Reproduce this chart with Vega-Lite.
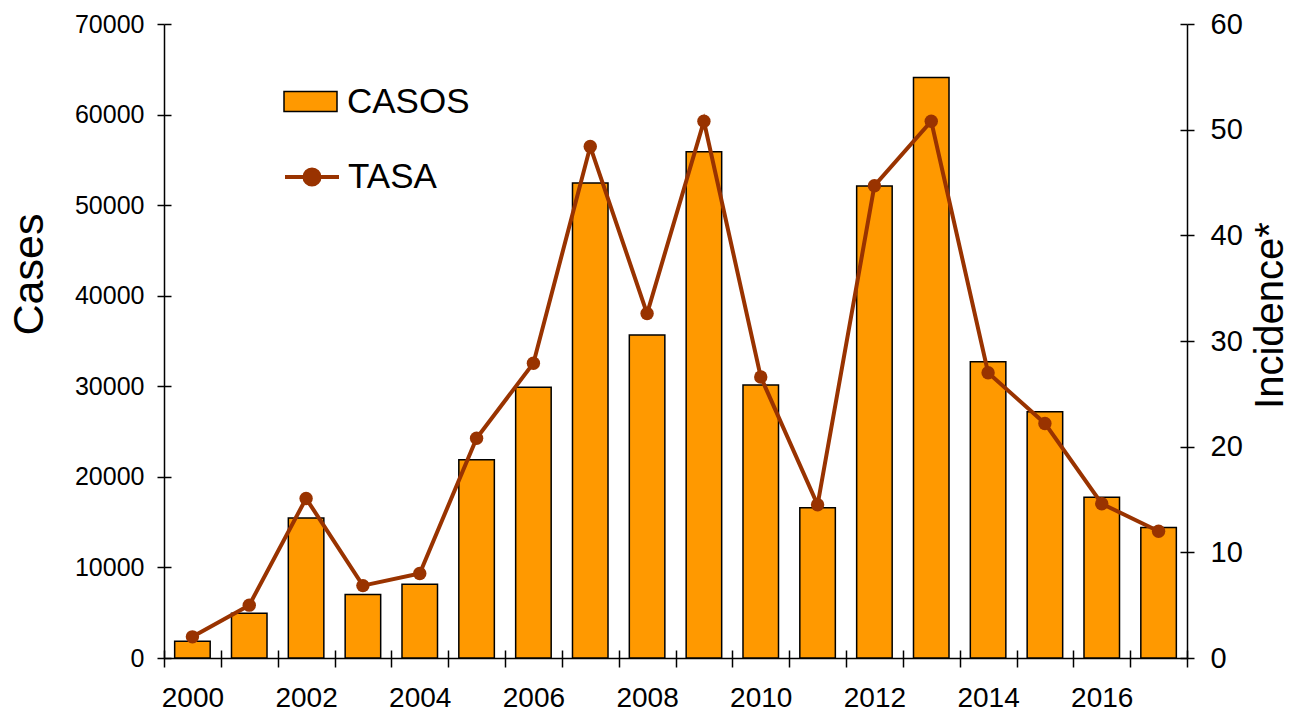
{
  "$schema": "https://vega.github.io/schema/vega-lite/v6.json",
  "autosize": "none",
  "padding": {"left": 164, "top": 24, "right": 104, "bottom": 56},
  "width": 1023,
  "height": 634,
  "background": "white",
  "data": {
    "values": [
      {"year": 2000, "cases": 1850, "tasa": 2.0},
      {"year": 2001, "cases": 4950, "tasa": 5.0},
      {"year": 2002, "cases": 15450, "tasa": 15.1},
      {"year": 2003, "cases": 7000, "tasa": 6.85},
      {"year": 2004, "cases": 8150, "tasa": 8.0},
      {"year": 2005, "cases": 21900, "tasa": 20.8},
      {"year": 2006, "cases": 29900, "tasa": 27.9},
      {"year": 2007, "cases": 52450, "tasa": 48.4},
      {"year": 2008, "cases": 35650, "tasa": 32.6},
      {"year": 2009, "cases": 55900, "tasa": 50.8},
      {"year": 2010, "cases": 30150, "tasa": 26.6},
      {"year": 2011, "cases": 16600, "tasa": 14.5},
      {"year": 2012, "cases": 52100, "tasa": 44.7},
      {"year": 2013, "cases": 64100, "tasa": 50.8},
      {"year": 2014, "cases": 32700, "tasa": 27.0},
      {"year": 2015, "cases": 27200, "tasa": 22.2},
      {"year": 2016, "cases": 17750, "tasa": 14.6},
      {"year": 2017, "cases": 14400, "tasa": 12.0}
    ]
  },
  "layer": [
    {
      "mark": {"type": "bar", "width": {"band": 0.625}, "stroke": "#000000", "strokeWidth": 1.5},
      "encoding": {
        "x": {
          "field": "year", "type": "ordinal",
          "scale": {"paddingInner": 0, "paddingOuter": 0},
          "axis": {
            "orient": "bottom", "title": null, "labelAngle": 0, "tickBand": "extent",
            "tickSize": 9, "labelPadding": 17, "labelFontSize": 28,
            "labelExpr": "datum.value % 2 == 0 ? datum.label : ''"
          }
        },
        "y": {
          "field": "cases", "type": "quantitative",
          "scale": {"domain": [0, 70000], "nice": false},
          "axis": {
            "orient": "left", "values": [0, 10000, 20000, 30000, 40000, 50000, 60000, 70000],
            "format": "d", "tickSize": 7, "labelPadding": 13, "labelFontSize": 25,
            "title": "Cases", "titleFontSize": 43, "titleAngle": -90,
            "titleX": -135, "titleY": 250, "titleAlign": "center", "titleBaseline": "middle"
          }
        },
        "fill": {
          "datum": "CASOS",
          "scale": {"range": ["#FF9900"]},
          "legend": {
            "orient": "none", "legendX": 119, "legendY": 50, "title": null, "padding": 0,
            "symbolType": "M-1,-0.377L1,-0.377L1,0.377L-1,0.377Z", "symbolSize": 2809,
            "symbolStrokeColor": "#000000", "symbolStrokeWidth": 1.5,
            "labelFontSize": 35, "labelFont": "Liberation Sans", "labelColor": "#000000", "labelOffset": 9
          }
        }
      }
    },
    {
      "mark": {"type": "line", "strokeWidth": 4},
      "encoding": {
        "x": {"field": "year", "type": "ordinal", "axis": null},
        "y": {
          "field": "tasa", "type": "quantitative",
          "scale": {"domain": [0, 60], "nice": false},
          "axis": {
            "orient": "right", "values": [0, 10, 20, 30, 40, 50, 60],
            "tickSize": 7, "labelPadding": 16, "labelFontSize": 29,
            "title": "Incidence*", "titleFontSize": 40, "titleAngle": -90,
            "titleX": 83, "titleY": 291, "titleAlign": "center", "titleBaseline": "middle"
          }
        },
        "stroke": {
          "datum": "TASA",
          "scale": {"range": ["#993300"]},
          "legend": {
            "orient": "none", "legendX": 119, "legendY": 124, "title": null, "padding": 0,
            "symbolType": "M-1,0L1,0M0.28,0A0.28,0.28 0 1,1 -0.28,0A0.28,0.28 0 1,1 0.28,0Z",
            "symbolSize": 2916, "symbolStrokeWidth": 4, "symbolFillColor": "#993300",
            "labelFontSize": 35, "labelFont": "Liberation Sans", "labelColor": "#000000", "labelOffset": 7,
            "encode": {"symbols": {"update": {"fill": {"value": "#993300"}, "stroke": {"value": "#993300"}}}}
          }
        }
      }
    },
    {
      "mark": {"type": "point", "filled": true, "size": 180, "color": "#993300", "opacity": 1},
      "encoding": {
        "x": {"field": "year", "type": "ordinal", "axis": null},
        "y": {"field": "tasa", "type": "quantitative", "scale": {"domain": [0, 60], "nice": false}, "axis": null}
      }
    },
    {
      "mark": {"type": "point", "opacity": 0},
      "encoding": {
        "x": {
          "field": "year", "type": "ordinal",
          "axis": {"orient": "bottom", "title": null, "labels": false, "domain": false, "tickBand": "extent", "tickSize": -8}
        },
        "y": {
          "field": "cases", "type": "quantitative",
          "scale": {"domain": [0, 70000], "nice": false},
          "axis": {"orient": "left", "values": [0, 10000, 20000, 30000, 40000, 50000, 60000, 70000], "labels": false, "domain": false, "title": null, "tickSize": -7}
        }
      }
    },
    {
      "mark": {"type": "point", "opacity": 0},
      "encoding": {
        "x": {"field": "year", "type": "ordinal", "axis": null},
        "y": {
          "field": "tasa", "type": "quantitative",
          "scale": {"domain": [0, 60], "nice": false},
          "axis": {"orient": "right", "values": [0, 10, 20, 30, 40, 50, 60], "labels": false, "domain": false, "title": null, "tickSize": -7}
        }
      }
    }
  ],
  "resolve": {"scale": {"y": "independent"}, "axis": {"x": "independent"}},
  "config": {
    "view": {"stroke": null},
    "font": "Liberation Sans",
    "axis": {
      "grid": false, "domainColor": "#000000", "tickColor": "#000000", "labelColor": "#000000",
      "titleColor": "#000000", "labelFont": "Liberation Sans", "titleFont": "Liberation Sans",
      "domainWidth": 1.5, "tickWidth": 1.5, "titleFontWeight": "normal"
    }
  }
}
